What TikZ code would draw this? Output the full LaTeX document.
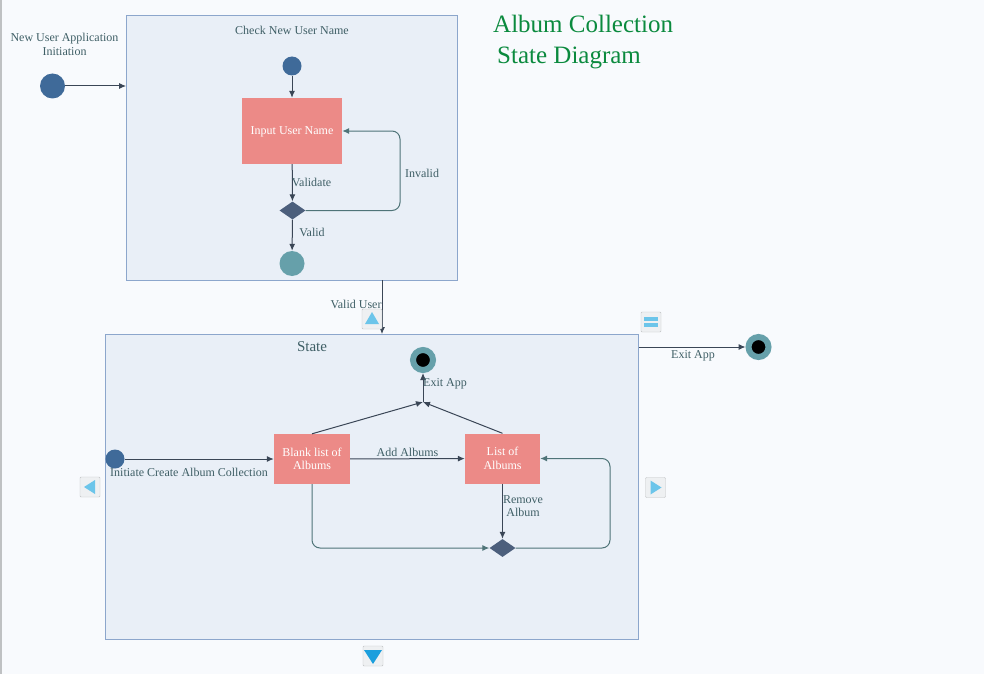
\documentclass[tikz,border=0pt]{standalone}
\usepackage{fontspec}
\setmainfont{Liberation Serif}
\usetikzlibrary{shapes.geometric,arrows.meta}
\definecolor{pagebg}{HTML}{F8FAFD}
\definecolor{boxbg}{HTML}{E9EFF7}
\definecolor{boxline}{HTML}{8CA6CC}
\definecolor{pink}{HTML}{EC8A87}
\definecolor{bluedot}{HTML}{3F6A99}
\definecolor{tealdot}{HTML}{66A0AA}
\definecolor{darkline}{HTML}{3A4656}
\definecolor{tealline}{HTML}{4F7478}
\definecolor{labeltext}{HTML}{3F5F66}
\definecolor{diamondfill}{HTML}{4C5F7C}
\definecolor{titlegreen}{HTML}{0B8A3E}
\definecolor{btnfill}{HTML}{EEF0F2}
\definecolor{btnline}{HTML}{BFC1C3}
\definecolor{arrowlight}{HTML}{6CC5EA}
\definecolor{arrowstrong}{HTML}{1C9FDD}
\tikzstyle{panel}=[draw=boxline,fill=boxbg,inner sep=0pt,line width=.8pt]
\tikzstyle{statebox}=[fill=pink,text=white,inner sep=0pt,align=center,font=\fontsize{12}{13.5}\selectfont]
\tikzstyle{startdot}=[circle,fill=bluedot,inner sep=0pt]
\tikzstyle{enddot}=[circle,draw=tealdot,line width=6pt,fill=black,minimum size=20pt,inner sep=0pt]
\tikzstyle{choice}=[diamond,fill=diamondfill,minimum width=26pt,minimum height=18pt,inner sep=0pt]
\tikzstyle{button}=[draw=btnline,fill=btnfill,minimum size=20pt,inner sep=0pt,rounded corners=1pt]
\tikzstyle{edge}=[draw=darkline,line width=1pt,-{Latex[length=7pt,width=6pt]}]
\tikzstyle{loopedge}=[draw=tealline,line width=1pt,-{Latex[length=7pt,width=6pt]},rounded corners=8pt]
\tikzstyle{weight}=[text=labeltext,align=center,inner sep=0pt,font=\fontsize{12}{13.5}\selectfont]
\tikzstyle{title}=[text=titlegreen,anchor=west,inner sep=0pt,font=\fontsize{25}{28}\selectfont]

\begin{document}
\begin{tikzpicture}[x=1pt,y=-1pt]
\useasboundingbox[fill=pagebg] (0,0) rectangle (984,674);
\fill[btnline] (0,0) rectangle (2,674);
% panels
\node[panel,minimum width=331pt,minimum height=265pt] (check) at (292,147.5) {};
\node[panel,minimum width=533pt,minimum height=305pt] (state) at (372,487) {};
% nodes
\node[startdot,minimum size=25pt] (appstart) at (52.5,86) {};
\node[startdot,minimum size=19pt] (checkstart) at (292,66) {};
\node[statebox,minimum width=100pt,minimum height=66pt] (input) at (292,131) {\smash{\raisebox{-4pt}{Input User Name}}};
\node[choice] (validate) at (292.5,210.5) {};
\node[circle,fill=tealdot,minimum size=25pt,inner sep=0pt] (checkend) at (292,263.5) {};
\node[enddot] (stateend) at (423,360) {};
\node[enddot] (append) at (758.5,347) {};
\node[startdot,minimum size=19pt] (statestart) at (115,459) {};
\node[statebox,minimum width=76pt,minimum height=50pt] (blank) at (312,459) {Blank list of\\Albums};
\node[statebox,minimum width=75pt,minimum height=50pt] (list) at (502.5,458.5) {List of\\Albums};
\node[choice] (remove) at (502.5,548) {};
\coordinate (merge) at (423,402);
\coordinate (userout) at (check.south -| 382,0);
\coordinate (userin) at (state.north -| 382,0);
\coordinate (exitout) at (state.east |- append);
% connectors
\draw[edge] (appstart) -- (check.west |- appstart);
\draw[edge] (checkstart) -- (input);
\draw[edge] (input) -- (validate);
\draw[edge] (validate) -- (checkend);
\draw[loopedge] (validate.east) -- (400,210.5) -- (400,131) -- (input.east);
\draw[edge] (userout) -- (userin);
\draw[edge] (exitout) -- (append);
\draw[edge] (statestart) -- (blank);
\draw[edge] (blank) -- (list);
\draw[edge] (list) -- (remove);
\draw[edge] (blank.north) -- (merge);
\draw[edge] (list.north) -- (merge);
\draw[edge] (merge) -- (stateend);
\draw[loopedge] (blank.south) -- (312,548) -- (remove.west);
\draw[loopedge] (remove.east) -- (610,548) -- (610,458.5) -- (list.east);
% labels
\foreach \pos/\name/\txt in {{(64.5,44.5)/appinit/New User Application\\Initiation}, {(292,30)/checkname/Check New User Name}, {(311.5,182)/lblvalidate/Validate}, {(422,173)/lblinvalid/Invalid}, {(312,232.5)/lblvalid/Valid}, {(356,304)/lblvaliduser/Valid User}, {(693,355.5)/lblexitout/Exit App}, {(445,383.5)/lblexitin/Exit App}, {(189,472)/lblinitiate/Initiate Create Album Collection}, {(407.5,452)/lbladd/Add Albums}, {(523,506)/lblremove/Remove\\Album}}
\node[weight] (\name) at \pos {\txt};
\node[weight,font=\fontsize{15}{16}\selectfont] (statename) at (312,347) {State};
\node[title] (titleone) at (493,23.5) {Album Collection};
\node[title] (titletwo) at (497,58) {State Diagram};
% scroll buttons
\foreach \pos/\name in {{(372,319)/btnup}, {(651,322)/btnmenu}, {(90,487)/btnleft}, {(655.5,487.5)/btnright}, {(373,656)/btndown}}
\node[button] (\name) at \pos {};
\fill[arrowlight] (btnup.center) ++(-7,5) -- ++(14,0) -- ++(-7,-12) -- cycle;
\fill[arrowlight] (btnleft.center) ++(5,-7) -- ++(0,14) -- ++(-11,-7) -- cycle;
\fill[arrowlight] (btnright.center) ++(-5,-7) -- ++(0,14) -- ++(11,-7) -- cycle;
\fill[arrowstrong] (btndown.center) ++(-9,-6) -- ++(18,0) -- ++(-9,14) -- cycle;
\fill[arrowlight] (btnmenu.center) ++(-7,-5) rectangle ++(14,4);
\fill[arrowlight] (btnmenu.center) ++(-7,1) rectangle ++(14,4);
\end{tikzpicture}
\end{document}
